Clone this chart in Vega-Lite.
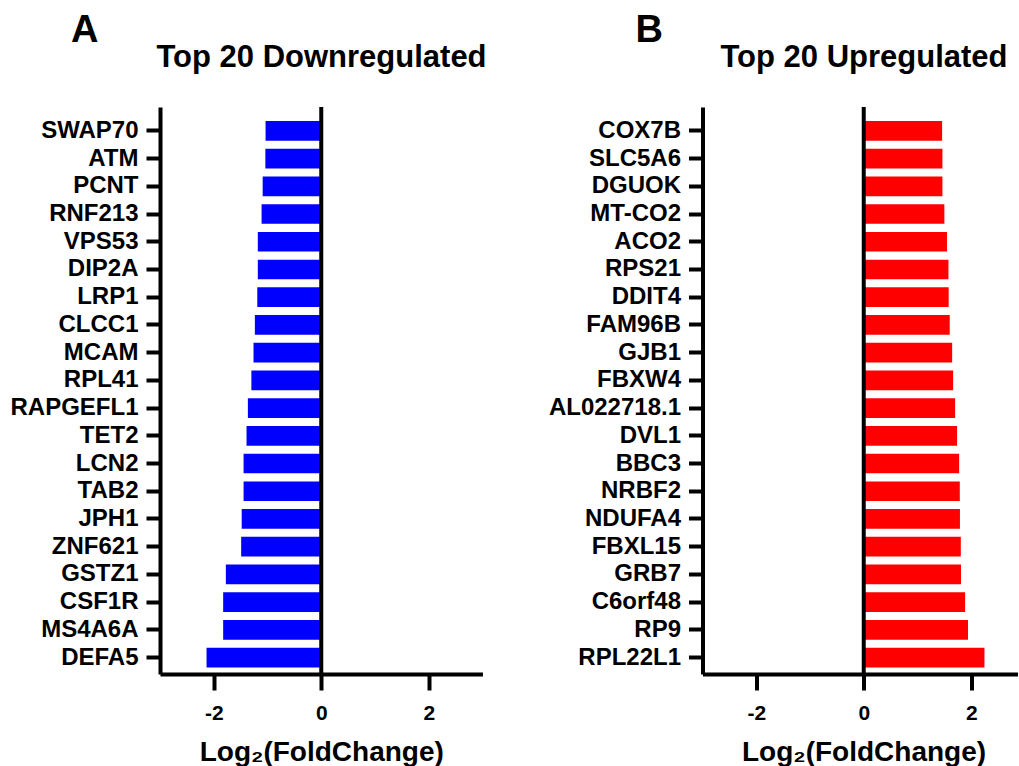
{
  "$schema": "https://vega.github.io/schema/vega-lite/v6.json",
  "padding": {"left": 9, "top": 12, "right": 0, "bottom": 0},
  "background": "white",
  "config": {
    "font": "Liberation Sans",
    "view": {"stroke": null},
    "axis": {
      "grid": false,
      "domainColor": "black",
      "domainWidth": 4,
      "tickColor": "black",
      "tickWidth": 4,
      "labelColor": "black",
      "labelFont": "Liberation Sans",
      "labelFontWeight": "bold",
      "titleColor": "black",
      "titleFont": "Liberation Sans",
      "titleFontWeight": "bold"
    },
    "title": {"font": "Liberation Sans", "fontWeight": "bold", "color": "black"}
  },
  "datasets": {
    "down": [
      {"gene": "SWAP70", "log2fc": -1.036},
      {"gene": "ATM", "log2fc": -1.04},
      {"gene": "PCNT", "log2fc": -1.09},
      {"gene": "RNF213", "log2fc": -1.11},
      {"gene": "VPS53", "log2fc": -1.18},
      {"gene": "DIP2A", "log2fc": -1.18},
      {"gene": "LRP1", "log2fc": -1.19},
      {"gene": "CLCC1", "log2fc": -1.235},
      {"gene": "MCAM", "log2fc": -1.26},
      {"gene": "RPL41", "log2fc": -1.30},
      {"gene": "RAPGEFL1", "log2fc": -1.365},
      {"gene": "TET2", "log2fc": -1.39},
      {"gene": "LCN2", "log2fc": -1.445},
      {"gene": "TAB2", "log2fc": -1.445},
      {"gene": "JPH1", "log2fc": -1.48},
      {"gene": "ZNF621", "log2fc": -1.49},
      {"gene": "GSTZ1", "log2fc": -1.775},
      {"gene": "CSF1R", "log2fc": -1.825},
      {"gene": "MS4A6A", "log2fc": -1.825},
      {"gene": "DEFA5", "log2fc": -2.134}
    ],
    "up": [
      {"gene": "COX7B", "log2fc": 1.458},
      {"gene": "SLC5A6", "log2fc": 1.464},
      {"gene": "DGUOK", "log2fc": 1.464},
      {"gene": "MT-CO2", "log2fc": 1.50},
      {"gene": "ACO2", "log2fc": 1.55},
      {"gene": "RPS21", "log2fc": 1.576},
      {"gene": "DDIT4", "log2fc": 1.58},
      {"gene": "FAM96B", "log2fc": 1.60},
      {"gene": "GJB1", "log2fc": 1.645},
      {"gene": "FBXW4", "log2fc": 1.663},
      {"gene": "AL022718.1", "log2fc": 1.70},
      {"gene": "DVL1", "log2fc": 1.737},
      {"gene": "BBC3", "log2fc": 1.775},
      {"gene": "NRBF2", "log2fc": 1.787},
      {"gene": "NDUFA4", "log2fc": 1.79},
      {"gene": "FBXL15", "log2fc": 1.806},
      {"gene": "GRB7", "log2fc": 1.81},
      {"gene": "C6orf48", "log2fc": 1.886},
      {"gene": "RP9", "log2fc": 1.94},
      {"gene": "RPL22L1", "log2fc": 2.246}
    ]
  },
  "hconcat": [
    {
      "width": 322.5,
      "height": 567,
      "title": {"text": "A", "fontSize": 38, "anchor": "start", "frame": "group", "align": "left", "dx": -89, "baseline": "alphabetic", "offset": -39},
      "layer": [
        {
          "data": {"name": "down"},
          "mark": {"type": "bar", "color": "#0000FF"},
          "encoding": {
            "y": {
              "field": "gene", "type": "nominal", "sort": null,
              "scale": {"paddingInner": 0.29, "paddingOuter": 0.372, "align": 0.68},
              "axis": {
                "title": "Top 20 Downregulated", "titleFontSize": 31, "titleAngle": 0, "titleX": 161, "titleY": -41,
                "titleAlign": "center", "titleBaseline": "alphabetic",
                "labelFontSize": 24, "tickSize": 14, "labelPadding": 8
              }
            },
            "x": {
              "field": "log2fc", "type": "quantitative",
              "scale": {"domain": [-3, 3], "nice": false},
              "axis": {
                "title": "Log₂(FoldChange)", "titleFontSize": 28, "titleY": 86, "titleBaseline": "alphabetic",
                "values": [-2, 0, 2], "labelExpr": "'' + datum.value", "labelFontSize": 21, "tickSize": 16, "labelPadding": 12
              }
            }
          }
        },
        {
          "data": {"values": [{}]},
          "mark": {"type": "rule", "color": "black", "strokeWidth": 4},
          "encoding": {"x": {"datum": 0}}
        }
      ]
    },
    {
      "width": 315.5,
      "height": 567,
      "title": {"text": "B", "fontSize": 38, "anchor": "start", "frame": "group", "align": "left", "dx": -67, "baseline": "alphabetic", "offset": -39},
      "layer": [
        {
          "data": {"name": "up"},
          "mark": {"type": "bar", "color": "#FF0000"},
          "encoding": {
            "y": {
              "field": "gene", "type": "nominal", "sort": null,
              "scale": {"paddingInner": 0.29, "paddingOuter": 0.372, "align": 0.68},
              "axis": {
                "title": "Top 20 Upregulated", "titleFontSize": 31, "titleAngle": 0, "titleX": 161, "titleY": -41,
                "titleAlign": "center", "titleBaseline": "alphabetic",
                "labelFontSize": 24, "tickSize": 14, "labelPadding": 8
              }
            },
            "x": {
              "field": "log2fc", "type": "quantitative",
              "scale": {"domain": [-3, 2.87], "nice": false},
              "axis": {
                "title": "Log₂(FoldChange)", "titleFontSize": 28, "titleY": 86, "titleX": 161, "titleBaseline": "alphabetic",
                "values": [-2, 0, 2], "labelExpr": "'' + datum.value", "labelFontSize": 21, "tickSize": 16, "labelPadding": 12
              }
            }
          }
        },
        {
          "data": {"values": [{}]},
          "mark": {"type": "rule", "color": "black", "strokeWidth": 4},
          "encoding": {"x": {"datum": 0}}
        }
      ]
    }
  ],
  "spacing": 219.5,
  "bounds": "flush",
  "resolve": {"scale": {"x": "independent", "y": "independent"}}
}
